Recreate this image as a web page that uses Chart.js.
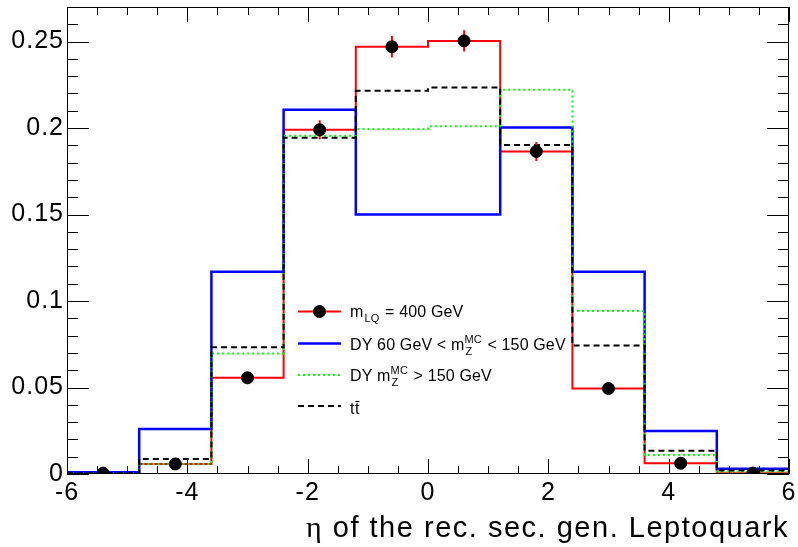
<!DOCTYPE html>
<html>
<head>
<meta charset="utf-8">
<script src="https://cdn.jsdelivr.net/npm/chart.js@4/dist/chart.umd.min.js"></script>
<style>
  html, body { margin: 0; padding: 0; background: #fff; }
  canvas { display: block; }
</style>
</head>
<body>
<canvas id="c" width="798" height="547"></canvas>
<script>
// histogram bins (eta) and normalised contents
const binEdges = [-6, -4.8, -3.6, -2.4, -1.2, 0, 1.2, 2.4, 3.6, 4.8, 6];
const signal     = [0.0005, 0.0058, 0.0556, 0.199, 0.247, 0.2504, 0.1865, 0.0494, 0.0062, 0.0005];
const signalErr  = [0.0003, 0.001, 0.003, 0.0055, 0.0062, 0.0062, 0.0055, 0.0028, 0.001, 0.0003];
const dyLowMass  = [0.001, 0.026, 0.117, 0.2106, 0.150, 0.150, 0.2004, 0.117, 0.0249, 0.003];
const dyHighMass = [0.0003, 0.0058, 0.0696, 0.1956, 0.1995, 0.201, 0.2222, 0.0943, 0.011, 0.0015];
const ttbar      = [0.0005, 0.0087, 0.0733, 0.1944, 0.2216, 0.2234, 0.1902, 0.0743, 0.0135, 0.002];

const xTickValues = [-6, -4, -2, 0, 2, 4, 6];
const xTickLabels = ["-6", "-4", "-2", "0", "2", "4", "6"];
const yTickValues = [0, 0.05, 0.1, 0.15, 0.2, 0.25];
const yTickLabels = ["0", "0.05", "0.1", "0.15", "0.2", "0.25"];
const xMin = -6, xMax = 6, yMin = 0, yMax = 0.27;
const xMinorStep = 0.5, yMinorStep = 0.01;
const xTitleSymbol = "\u03b7";
const xTitle = " of the rec. sec. gen. Leptoquark";

const FONT = "'Liberation Sans', Arial, Helvetica, sans-serif";
const SERIF = "'Liberation Serif', 'DejaVu Serif', serif";

function stepPoints(vals) {
  const pts = vals.map((v, i) => ({ x: binEdges[i], y: v }));
  pts.push({ x: binEdges[binEdges.length - 1], y: vals[vals.length - 1] });
  return pts;
}
const binCenters = signal.map((_, i) => (binEdges[i] + binEdges[i + 1]) / 2);

// ROOT rasterises with rounded advances -> slightly wider text
const spacing = {
  id: "spacing",
  beforeDraw(chart) { chart.ctx.letterSpacing = "1px"; }
};

// ROOT style frame with inward ticks on all four sides
const frameTicks = {
  id: "frameTicks",
  afterDraw(chart) {
    const { ctx, chartArea: a, scales: { x, y } } = chart;
    ctx.save();
    ctx.strokeStyle = "#000";
    ctx.lineWidth = 1;
    ctx.beginPath();
    ctx.rect(Math.round(a.left) + 0.5, Math.round(a.top) + 0.5,
             Math.round(a.right - a.left) - 1, Math.round(a.bottom - a.top) - 1);
    for (let v = xMin; v <= xMax + 1e-9; v += xMinorStep) {
      const px = Math.round(x.getPixelForValue(v)) + 0.5;
      const major = Math.abs(v / 2 - Math.round(v / 2)) < 1e-6;
      const len = major ? 15 : 8;
      ctx.moveTo(px, a.bottom); ctx.lineTo(px, a.bottom - len);
      ctx.moveTo(px, a.top); ctx.lineTo(px, a.top + len);
    }
    for (let v = yMin; v <= yMax + 1e-9; v += yMinorStep) {
      const py = Math.round(y.getPixelForValue(v)) + 0.5;
      const major = Math.abs(v / 0.05 - Math.round(v / 0.05)) < 1e-6;
      const len = major ? 22 : 11;
      ctx.moveTo(a.left, py); ctx.lineTo(a.left + len, py);
      ctx.moveTo(a.right, py); ctx.lineTo(a.right - len, py);
    }
    ctx.stroke();
    ctx.restore();
  }
};

// axis title, right aligned to the frame, stretched to the reference width
const axisTitle = {
  id: "axisTitle",
  afterDraw(chart) {
    const { ctx, chartArea: a } = chart;
    const target = 483;
    ctx.save();
    ctx.letterSpacing = "0px";
    ctx.font = "29px " + FONT;
    const wRest = ctx.measureText(xTitle).width;
    ctx.font = "30px " + SERIF;
    const wEta = ctx.measureText(xTitleSymbol).width;
    const ls = Math.max(0, (target - wRest - wEta) / (xTitle.length + 1));
    ctx.letterSpacing = ls + "px";
    ctx.fillStyle = "#000";
    ctx.textAlign = "left";
    ctx.textBaseline = "alphabetic";
    let x0 = a.right - target;
    ctx.fillText(xTitleSymbol, x0, 537);
    x0 += wEta + ls;
    ctx.font = "29px " + FONT;
    ctx.fillText(xTitle, x0, 537);
    ctx.restore();
  }
};

// red vertical error bars under the signal markers
const errorBars = {
  id: "errorBars",
  beforeDatasetDraw(chart, args) {
    if (args.index !== 4) return;
    const { ctx, scales: { x, y } } = chart;
    ctx.save();
    ctx.strokeStyle = "#ff0000";
    ctx.lineWidth = 2;
    ctx.beginPath();
    binCenters.forEach((c, i) => {
      const px = x.getPixelForValue(c);
      ctx.moveTo(px, y.getPixelForValue(signal[i] - signalErr[i]));
      ctx.lineTo(px, y.getPixelForValue(signal[i] + signalErr[i]));
    });
    ctx.stroke();
    ctx.restore();
  }
};

// legend with sub/superscripts
function rich(ctx, parts, x, y) {
  for (const p of parts) {
    if (p.sub && p.sup) {
      ctx.font = "11px " + FONT;
      const w1 = ctx.measureText(p.sup).width, w2 = ctx.measureText(p.sub).width;
      ctx.fillText(p.sup, x, y - 7);
      ctx.fillText(p.sub, x + 1, y + 5);
      x += Math.max(w1, w2) + 1;
    } else if (p.sub) {
      ctx.font = "11px " + FONT;
      ctx.fillText(p.sub, x + 1, y + 5);
      x += ctx.measureText(p.sub).width + 2;
    } else {
      ctx.font = "16px " + FONT;
      ctx.fillText(p.t, x, y);
      x += ctx.measureText(p.t).width;
    }
  }
  return x;
}

const legendBox = {
  id: "legendBox",
  afterDraw(chart) {
    const ctx = chart.ctx;
    const x0 = 298, x1 = 341, tx = 350;
    const rows = [311.5, 343.5, 375, 406];
    ctx.save();
    ctx.lineWidth = 2;
    ctx.strokeStyle = "#ff0000";
    ctx.beginPath(); ctx.moveTo(x0, rows[0]); ctx.lineTo(x1, rows[0]); ctx.stroke();
    ctx.fillStyle = "#000";
    ctx.beginPath(); ctx.arc((x0 + x1) / 2, rows[0], 6.5, 0, Math.PI * 2); ctx.fill();
    ctx.strokeStyle = "#0000ff"; ctx.lineWidth = 2.5;
    ctx.beginPath(); ctx.moveTo(x0, rows[1]); ctx.lineTo(x1, rows[1]); ctx.stroke();
    ctx.strokeStyle = "#00ff00"; ctx.lineWidth = 2; ctx.setLineDash([2, 3]);
    ctx.beginPath(); ctx.moveTo(x0, rows[2]); ctx.lineTo(x1, rows[2]); ctx.stroke();
    ctx.strokeStyle = "#000"; ctx.setLineDash([6, 4]);
    ctx.beginPath(); ctx.moveTo(x0, rows[3]); ctx.lineTo(x1, rows[3]); ctx.stroke();
    ctx.setLineDash([]);

    ctx.letterSpacing = "0.15px";
    ctx.fillStyle = "#000";
    ctx.textBaseline = "alphabetic";
    ctx.textAlign = "left";
    rich(ctx, [{ t: "m" }, { sub: "LQ" }, { t: " = 400 GeV" }], tx, rows[0] + 5.5);
    rich(ctx, [{ t: "DY 60 GeV < m" }, { sub: "Z", sup: "MC" }, { t: " < 150 GeV" }], tx, rows[1] + 6);
    rich(ctx, [{ t: "DY m" }, { sub: "Z", sup: "MC" }, { t: " > 150 GeV" }], tx, rows[2] + 6);
    ctx.font = "16px " + FONT;
    ctx.letterSpacing = "0px";
    const tw = ctx.measureText("t").width;
    ctx.fillText("t", tx, rows[3] + 8);
    ctx.fillText("t", tx + tw + 0.5, rows[3] + 8);
    ctx.lineWidth = 1.2;
    ctx.beginPath();
    ctx.moveTo(tx + tw + 1, rows[3] - 4.5);
    ctx.lineTo(tx + 2 * tw + 0.5, rows[3] - 4.5);
    ctx.stroke();
    ctx.restore();
  }
};

new Chart(document.getElementById("c").getContext("2d"), {
  type: "line",
  data: {
    datasets: [
      { label: "DY m_Z^MC > 150 GeV", data: stepPoints(dyHighMass), stepped: true,
        borderColor: "#00ff00", borderWidth: 2, borderDash: [2, 3], pointRadius: 0, fill: false, order: 2 },
      { label: "ttbar", data: stepPoints(ttbar), stepped: true,
        borderColor: "#000000", borderWidth: 2, borderDash: [6, 4], pointRadius: 0, fill: false, order: 1 },
      { label: "DY 60 GeV < m_Z^MC < 150 GeV", data: stepPoints(dyLowMass), stepped: true,
        borderColor: "#0000ff", borderWidth: 2.5, pointRadius: 0, fill: false, order: 3 },
      { label: "m_LQ = 400 GeV", data: stepPoints(signal), stepped: true,
        borderColor: "#ff0000", borderWidth: 2, pointRadius: 0, fill: false, order: 4 },
      { type: "scatter", label: "signal points",
        data: binCenters.map((c, i) => ({ x: c, y: signal[i] })),
        pointRadius: 6, borderWidth: 1, backgroundColor: "#000", borderColor: "#000",
        showLine: false, order: 0 }
    ]
  },
  options: {
    responsive: false,
    animation: false,
    events: [],
    layout: { padding: { top: 7, right: 9, left: 0, bottom: 0 } },
    plugins: { legend: { display: false }, tooltip: { enabled: false } },
    scales: {
      x: {
        type: "linear", min: xMin, max: xMax,
        grid: { display: false, drawTicks: false },
        border: { display: false },
        afterBuildTicks(s) { s.ticks = xTickValues.map(v => ({ value: v })); },
        afterFit(s) { s.height = 73; s.paddingLeft = 0; s.paddingRight = 0; },
        ticks: {
          autoSkip: false, maxRotation: 0, padding: 4, color: "#000",
          font: { family: FONT, size: 25 },
          callback: (v) => xTickLabels[xTickValues.indexOf(v)]
        }
      },
      y: {
        type: "linear", min: yMin, max: yMax,
        grid: { display: false, drawTicks: false },
        border: { display: false },
        afterBuildTicks(s) { s.ticks = yTickValues.map(v => ({ value: v })); },
        afterFit(s) { s.width = 67; s.paddingTop = 0; s.paddingBottom = 0; },
        ticks: {
          autoSkip: false, padding: 3, color: "#000",
          font: { family: FONT, size: 25 },
          callback: (v) => yTickLabels[yTickValues.indexOf(v)]
        }
      }
    }
  },
  plugins: [spacing, errorBars, frameTicks, axisTitle, legendBox]
});
</script>
</body>
</html>
